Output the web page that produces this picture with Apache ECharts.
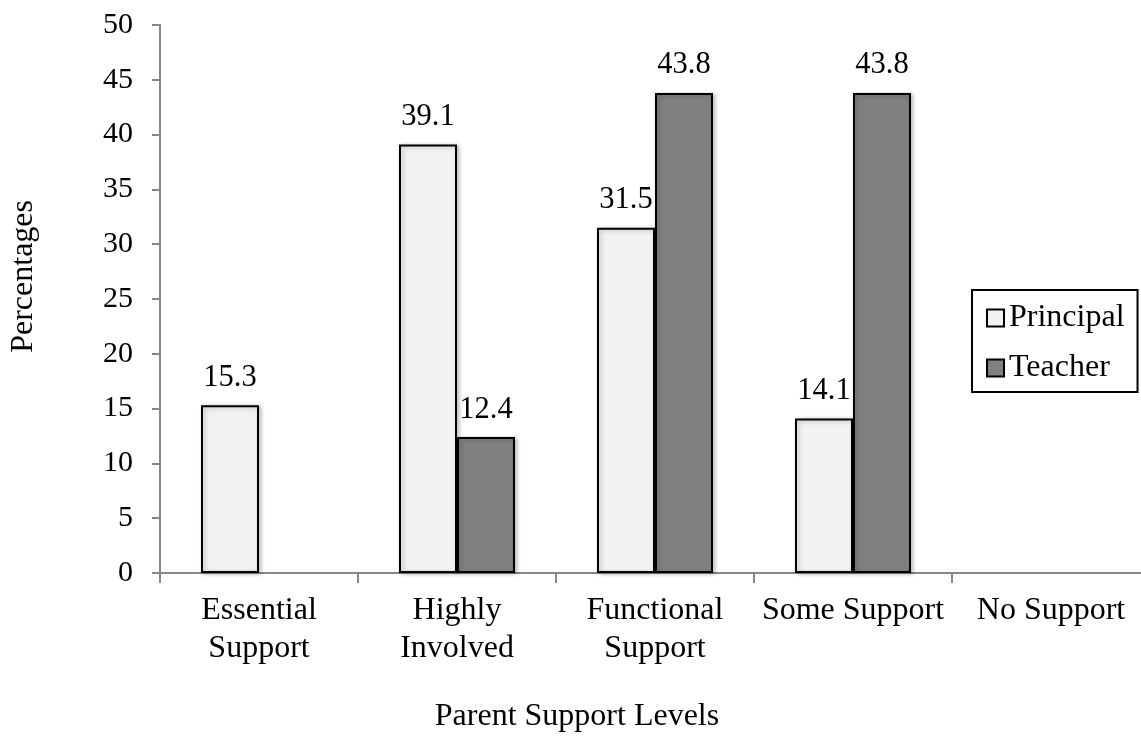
<!DOCTYPE html>
<html>
<head>
<meta charset="utf-8">
<script src="https://cdn.jsdelivr.net/npm/echarts@6/dist/echarts.min.js"></script>
<style>
  html, body { margin: 0; padding: 0; background: #fff; }
  #chart { width: 1141px; height: 736px; }
</style>
</head>
<body>
<div id="chart"></div>
<script>
// Parent support levels reported by principals and teachers (%)
const categories = ['Essential\nSupport', 'Highly\nInvolved', 'Functional\nSupport', 'Some Support', 'No Support'];
const principal = [15.3, 39.1, 31.5, 14.1, null];
const teacher = [null, 12.4, 43.8, 43.8, null];
const yTicks = { min: 0, max: 50, interval: 5 };

const FONT = '"Liberation Serif", "Times New Roman", serif';
const FS_TICK = 30;
const FS_TEXT = 32;

const chart = echarts.init(document.getElementById('chart'));

function barSeries(name, data, fill) {
  return {
    name: name,
    type: 'bar',
    data: data,
    barWidth: 58,
    barGap: '0%',
    itemStyle: {
      color: fill,
      borderColor: '#000',
      borderWidth: 2,
      shadowColor: 'rgba(0,0,0,0.25)',
      shadowBlur: 4,
      shadowOffsetX: 2,
      shadowOffsetY: 1
    },
    label: {
      show: true,
      position: 'top',
      distance: 12,
      color: '#000',
      fontFamily: FONT,
      fontSize: 30.5,
      formatter: p => (p.value == null ? '' : p.value.toFixed(1))
    }
  };
}

chart.setOption({
  animation: false,
  backgroundColor: '#fff',
  textStyle: { fontFamily: FONT },
  // the category axis runs slightly past the right edge of the canvas
  grid: { left: 160, top: 25, right: -9, bottom: 163, containLabel: false, outerBoundsMode: 'none' },
  legend: {
    orient: 'vertical',
    left: 972,
    top: 290,
    padding: [12, 13, 8, 14],
    itemGap: 18,
    itemWidth: 17,
    itemHeight: 17,
    itemTextGap: 5,
    borderColor: '#000',
    borderWidth: 2,
    backgroundColor: '#fff',
    icon: 'rect',
    textStyle: { color: '#000', fontFamily: FONT, fontSize: FS_TEXT },
    data: [
      { name: 'Principal', itemStyle: { color: '#f2f2f2', borderColor: '#000', borderWidth: 2 } },
      { name: 'Teacher', itemStyle: { color: '#808080', borderColor: '#000', borderWidth: 2 } }
    ]
  },
  xAxis: {
    type: 'category',
    data: categories,
    axisLine: { lineStyle: { color: '#868686', width: 2 } },
    axisTick: { show: true, length: 10, lineStyle: { color: '#868686', width: 2 } },
    axisLabel: {
      color: '#000',
      fontFamily: FONT,
      fontSize: FS_TEXT,
      lineHeight: 38,
      margin: 19,
      interval: 0
    }
  },
  yAxis: {
    type: 'value',
    min: yTicks.min,
    max: yTicks.max,
    interval: yTicks.interval,
    splitLine: { show: false },
    axisLine: { show: true, lineStyle: { color: '#868686', width: 2 } },
    axisTick: { show: true, length: 8, lineStyle: { color: '#868686', width: 2 } },
    axisLabel: { color: '#000', fontFamily: FONT, fontSize: FS_TICK, margin: 27 }
  },
  graphic: [
    {
      type: 'text',
      left: 8,
      top: 200,
      rotation: Math.PI / 2,
      style: { text: 'Percentages', fill: '#000', font: FS_TEXT + 'px ' + FONT }
    },
    {
      type: 'text',
      style: { text: 'Parent Support Levels', fill: '#000', font: FS_TEXT + 'px ' + FONT, x: 577, y: 717, textAlign: 'center', textVerticalAlign: 'middle' }
    }
  ],
  series: [
    barSeries('Principal', principal, '#f2f2f2'),
    barSeries('Teacher', teacher, '#808080')
  ]
});
</script>
</body>
</html>
